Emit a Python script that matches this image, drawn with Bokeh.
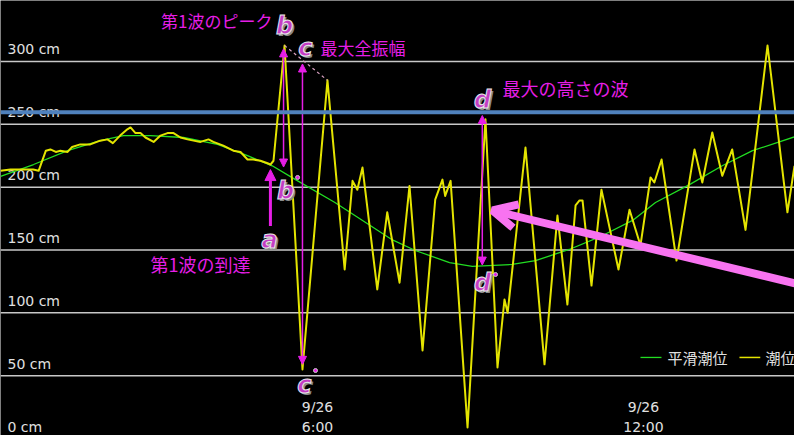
from bokeh.plotting import figure
from bokeh.models import Range1d, Span, Arrow, NormalHead, OpenHead
from bokeh.core.properties import value
from bokeh.embed import file_html
from bokeh.resources import INLINE

# ---- data (time = minutes after 0:00 on 9/26, level = cm) ----
tide_min = [10, 21, 46, 52, 60, 65, 71, 76, 84, 89, 98, 109, 120, 128, 134, 142, 150,
            153.5, 159, 164.5, 170, 179, 186.6, 194.3, 201, 208.7, 216.4, 223, 230.8,
            239.6, 245, 256, 267, 275, 282.7, 289, 297, 304.8, 308, 311.4,
            323.6, 343.4, 371, 390, 398.7, 404, 409.7, 426, 437, 450.6, 461.6, 476,
            490, 498, 501, 507, 525.7, 545.5, 558.8, 566.5, 570, 589.7, 610.7, 625,
            636, 645, 649.4, 652.7, 662.6, 673.6, 692.4, 704.6, 716.7, 727.8, 732,
            740, 756.5, 776.4, 785, 796, 807, 818, 832.7, 857, 879, 886.8]
tide_cm = [213, 214, 214, 213, 229, 230, 228, 229, 228, 232, 234, 234, 237, 238, 235,
           241, 246, 247.5, 243, 243, 239.5, 236, 241, 243, 243, 239.5, 238, 237, 236,
           238, 236, 233, 229, 228, 222, 222, 221, 219, 218, 221,
           312.7, 55, 285, 134.5, 205, 198, 215.6, 118.6, 180, 124, 201, 70,
           190, 206, 193, 205, 8.8, 254, 56.5, 110.6, 100, 231.5, 59, 177.4,
           106.6, 185.4, 189.4, 189.4, 121.7, 198, 134.5, 182, 153.6, 207.7, 203.7,
           222, 141.6, 230, 203.7, 243.5, 209, 230, 166, 312.7, 180, 217]

smooth_min = [10, 46.4, 84, 120, 145.7, 175.6, 212, 249.6, 282.7, 310, 335.7, 378.8,
              442.8, 468, 505.8, 531, 575, 600.8, 638, 674.8, 708, 733.3, 770.8, 807,
              840.4, 886.8]
smooth_cm = [208.5, 218, 229, 237, 241, 241, 239.5, 234, 225, 217, 206, 188,
             158, 149.6, 140, 137, 138.5, 141.6, 150.4, 161.5, 173.5, 187.8, 202, 217,
             229, 240]

grid_cm = [0, 50, 100, 150, 200, 250, 300]
grid_labels = ["0 cm", "50 cm", "100 cm", "150 cm", "200 cm", "250 cm", "300 cm"]
time_ticks = [360, 720]
time_dates = ["9/26", "9/26"]
time_hours = ["6:00", "12:00"]
ref_level = 259.5

MAG = "#e61ee6"
LET = "#c43cc4"
YEL = "#e4e400"
GRN = "#22dd22"
JP = value("Noto Sans CJK JP")
LAT = value("DejaVu Sans")

p = figure(width=794, height=435, x_range=Range1d(9.9, 886.8), y_range=Range1d(2.4, 348.5),
           output_backend="svg", toolbar_location=None,
           x_axis_location=None, y_axis_location=None,
           background_fill_color="black", border_fill_color="black",
           min_border=0, outline_line_color=None)
p.grid.visible = False

for v in grid_cm:
    p.add_layout(Span(location=v, dimension="width", line_color="#c8c8c8",
                      line_width=1.5, level="underlay"))

p.text(x=[17.6] * len(grid_cm), y=grid_cm, text=grid_labels, y_offset=-4,
       text_baseline="bottom", text_align="left", text_font=LAT,
       text_font_size="14px", text_color="#e0e0e0")

p.text(x=time_ticks, y=[24.7] * 2, text=time_dates, text_baseline="middle",
       text_align="center", text_font=LAT, text_font_size="14px", text_color="#e0e0e0")
p.text(x=time_ticks, y=[8.8] * 2, text=time_hours, text_baseline="middle",
       text_align="center", text_font=LAT, text_font_size="14px", text_color="#e0e0e0")

# curves
p.line(smooth_min, smooth_cm, line_color=GRN, line_width=1.3)
p.line(tide_min, tide_cm, line_color=YEL, line_width=2, line_join="round")

# legend (drawn)
p.line([716.7, 739.9], [64.5, 64.5], line_color=GRN, line_width=1.3)
p.text(x=[746.5], y=[64.5], text=["平滑潮位"], text_baseline="middle", text_font=JP,
       text_font_size="15px", text_color="#e0e0e0")
p.line([826, 849], [64.5, 64.5], line_color=YEL, line_width=1.5)
p.text(x=[854.7], y=[64.5], text=["潮位"], text_baseline="middle", text_font=JP,
       text_font_size="15px", text_color="#e0e0e0")

# dashed line between first two crests
p.line([tide_min[40], tide_min[42]], [tide_cm[40], tide_cm[42]], line_color="#d8a0c0",
       line_width=1.2, line_dash="3 3")

# small arrows
def head(s):
    return NormalHead(size=s, fill_color=MAG, line_color=MAG)

p.add_layout(Arrow(x_start=308, y_start=169, x_end=308, y_end=214, line_color=MAG,
                   line_width=3, end=head(11)))
p.add_layout(Arrow(x_start=322.5, y_start=216, x_end=322.5, y_end=310, line_color=MAG,
                   line_width=1.5, start=head(8), end=head(8)))
p.add_layout(Arrow(x_start=343.4, y_start=59, x_end=343.4, y_end=298, line_color=MAG,
                   line_width=1.5, start=head(8), end=head(8)))
p.add_layout(Arrow(x_start=542, y_start=138, x_end=542, y_end=257, line_color=MAG,
                   line_width=1.5, start=head(8), end=head(8)))

# big pink arrow
p.add_layout(Arrow(x_start=890, y_start=123, x_end=553.3, y_end=181.4,
                   line_color="#f873f0", line_width=8,
                   end=OpenHead(size=24, line_color="#f873f0", line_width=8)))

# Japanese annotation texts
p.text(x=[310.3], y=[332.6], text=["第1波のピーク"], text_align="right", text_baseline="middle",
       text_font=JP, text_font_size="17px", text_color=MAG)
p.text(x=[363.3], y=[311.1], text=["最大全振幅"], text_align="left", text_baseline="middle",
       text_font=JP, text_font_size="17px", text_color=MAG)
p.text(x=[564.3], y=[278.5], text=["最大の高さの波"], text_align="left", text_baseline="middle",
       text_font=JP, text_font_size="18px", text_color=MAG)
p.text(x=[175.6], y=[139.2], text=["第1波の到達"], text_align="left", text_baseline="middle",
       text_font=JP, text_font_size="18px", text_color=MAG)

# letter markers
let_x = [323.6, 346.7, 542.2, 307, 324.7, 345.6, 542.2]
let_y = [328.6, 311, 269.7, 158.3, 197.3, 42.2, 124.1]
let_t = ["b", "c", "d", "a", "b", "c", "d"]
p.text(x=let_x, y=let_y, text=let_t, x_offset=2, y_offset=2, text_align="center",
       text_baseline="middle", text_font=LAT, text_font_style="bold italic",
       text_font_size="24px", text_color="#8a8a8a")
p.text(x=let_x, y=let_y, text=let_t, text_align="center", text_baseline="middle",
       text_font=LAT, text_font_style="bold italic", text_font_size="24px",
       text_color=LET, text_outline_color="#e8e8e8")
p.scatter(x=[338, 357.8, 556.6], y=[207.7, 54.1, 130.5], size=4, fill_color=MAG,
          line_color="#cccccc", line_width=1)

# reference level
p.add_layout(Span(location=ref_level, dimension="width", line_color="#4f81bd", line_width=4))

open("out.html", "w").write(file_html(p, INLINE))
